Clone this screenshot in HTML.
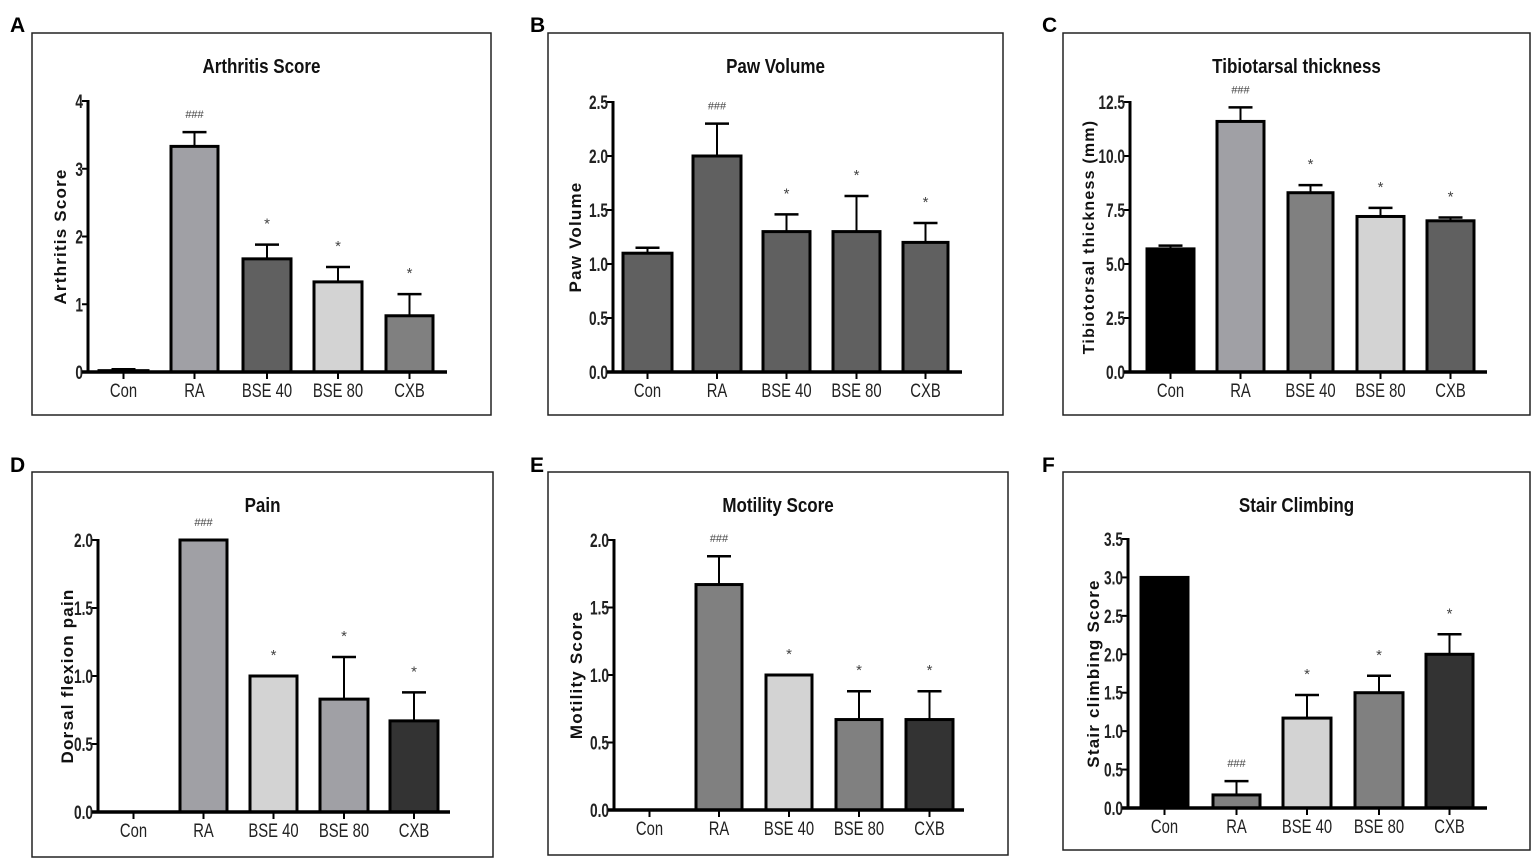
<!DOCTYPE html>
<html><head><meta charset="utf-8"><style>
body{margin:0;background:#fff}
svg{display:block}
text{font-family:"Liberation Sans",sans-serif}
</style></head><body>
<svg id="s" width="1535" height="863" xmlns="http://www.w3.org/2000/svg"></svg>
<script>
const P=[
 {L:'A',lx:10,ly:32,box:[32,33,491,415],title:'Arthritis Score',ylab:'Arthritis Score',labx:66,ax:88,y0:372,yt:101,max:4,ticks:[0,1,2,3,4],fmt:v=>String(v),end:447,
  bars:[[99,148,0.02,0.04,'#e8e8e8',''],[171,218,3.33,3.54,'#a0a0a5','###'],[243,291,1.67,1.88,'#606060','*'],[314,362,1.33,1.55,'#d3d3d3','*'],[386,433,0.83,1.15,'#808080','*']]},
 {L:'B',lx:530,ly:32,box:[548,33,1003,415],title:'Paw Volume',ylab:'Paw Volume',labx:581,ax:613,y0:372,yt:102,max:2.5,ticks:[0,0.5,1,1.5,2,2.5],fmt:v=>v.toFixed(1),end:962,
  bars:[[623,672,1.1,1.15,'#606060',''],[693,741,2.0,2.3,'#606060','###'],[763,810,1.3,1.46,'#606060','*'],[833,880,1.3,1.63,'#606060','*'],[903,948,1.2,1.38,'#606060','*']]},
 {L:'C',lx:1042,ly:32,box:[1063,33,1530,415],title:'Tibiotarsal thickness',ylab:'Tibiotorsal thickness (mm)',labx:1094,ax:1130,y0:372,yt:102,max:12.5,ticks:[0,2.5,5,7.5,10,12.5],fmt:v=>v.toFixed(1),end:1487,lfs:16,
  bars:[[1147,1194,5.7,5.85,'#000',''],[1217,1264,11.6,12.25,'#a0a0a5','###'],[1288,1333,8.3,8.65,'#808080','*'],[1357,1404,7.2,7.6,'#d3d3d3','*'],[1427,1474,7.0,7.15,'#606060','*']]},
 {L:'D',lx:10,ly:472,box:[32,472,493,857],title:'Pain',ylab:'Dorsal flexion pain',labx:73,ax:98,y0:812,yt:540,max:2,ticks:[0,0.5,1,1.5,2],fmt:v=>v.toFixed(1),end:450,
  bars:[[110,157,0,0,'#fff',''],[180,227,2.0,2.0,'#a0a0a5','###'],[250,297,1.0,1.0,'#d3d3d3','*'],[320,368,0.83,1.14,'#a0a0a5','*'],[390,438,0.67,0.88,'#333','*']]},
 {L:'E',lx:530,ly:472,box:[548,472,1008,855],title:'Motility Score',ylab:'Motility Score',labx:582,ax:614,y0:810,yt:540,max:2,ticks:[0,0.5,1,1.5,2],fmt:v=>v.toFixed(1),end:964,
  bars:[[626,673,0,0,'#fff',''],[696,742,1.67,1.88,'#808080','###'],[766,812,1.0,1.0,'#d3d3d3','*'],[836,882,0.67,0.88,'#808080','*'],[906,953,0.67,0.88,'#333','*']]},
 {L:'F',lx:1042,ly:472,box:[1063,472,1530,850],title:'Stair Climbing',ylab:'Stair climbing Score',labx:1099,ax:1128,y0:808,yt:539,max:3.5,ticks:[0,0.5,1,1.5,2,2.5,3,3.5],fmt:v=>v.toFixed(1),end:1487,
  bars:[[1141,1188,3.0,3.0,'#000',''],[1213,1260,0.17,0.35,'#808080','###'],[1283,1331,1.17,1.47,'#d3d3d3','*'],[1355,1403,1.5,1.72,'#808080','*'],[1426,1473,2.0,2.26,'#333','*']]}
];
const names=['Con','RA','BSE 40','BSE 80','CXB'];
const T=(x,y,s,anchor,fs,w,fill,sx)=>`<text transform="translate(${x},${y}) scale(${sx},1)" text-anchor="${anchor}" font-size="${fs}" font-weight="${w}" fill="${fill}">${s}</text>`;
let h='';
for(const p of P){
 const [x1,y1,x2,y2]=p.box;
 h+=`<text x="${p.lx}" y="${p.ly}" font-weight="bold" font-size="21">${p.L}</text>`;
 h+=`<rect x="${x1}" y="${y1}" width="${x2-x1}" height="${y2-y1}" fill="none" stroke="#222" stroke-width="1.5"/>`;
 const cx=(x1+x2)/2;
 h+=T(cx,y1+40,p.title,'middle',20,'bold','#111',0.85);
 const Y=v=>p.y0-(p.y0-p.yt)*v/p.max;
 const cy=(p.y0+p.yt)/2;
 h+=`<text transform="translate(${p.labx},${cy}) rotate(-90)" text-anchor="middle" font-weight="bold" font-size="${p.lfs||17}" letter-spacing="1.2" fill="#111">${p.ylab}</text>`;
 for(const t of p.ticks){const y=Y(t);
  h+=`<line x1="${p.ax-6}" y1="${y}" x2="${p.ax}" y2="${y}" stroke="#000" stroke-width="2"/>`;
  h+=T(p.ax-5,y+7,p.fmt(t),'end',19,'bold','#222',0.72);}
 p.bars.forEach((b,i)=>{
  const [bx1,bx2,v,e,c,m]=b; const mx=(bx1+bx2)/2; const yv=Y(v), ye=Y(e);
  if(v>0){
   if(e>v){h+=`<line x1="${mx}" y1="${yv}" x2="${mx}" y2="${ye}" stroke="#000" stroke-width="2"/><line x1="${mx-12}" y1="${ye}" x2="${mx+12}" y2="${ye}" stroke="#000" stroke-width="2.5"/>`;}
   h+=`<rect x="${bx1}" y="${yv}" width="${bx2-bx1}" height="${p.y0-yv}" fill="${c}" stroke="#000" stroke-width="3"/>`;
  }
  if(m){const ty=ye-(m==='###'?14:16);
   h+=`<text x="${mx}" y="${ty}" text-anchor="middle" font-size="${m==='###'?11:15}" fill="#444">${m}</text>`;}
  h+=`<line x1="${mx}" y1="${p.y0}" x2="${mx}" y2="${p.y0+7}" stroke="#000" stroke-width="2"/>`;
  h+=T(mx,p.y0+25,names[i],'middle',19,'normal','#222',0.78);
 });
 h+=`<line x1="${p.ax}" y1="${p.yt-1}" x2="${p.ax}" y2="${p.y0}" stroke="#000" stroke-width="3"/>`;
 h+=`<line x1="${p.ax-6}" y1="${p.y0}" x2="${p.end}" y2="${p.y0}" stroke="#000" stroke-width="3.5"/>`;
}
document.getElementById('s').innerHTML=h;
</script>
</body></html>
